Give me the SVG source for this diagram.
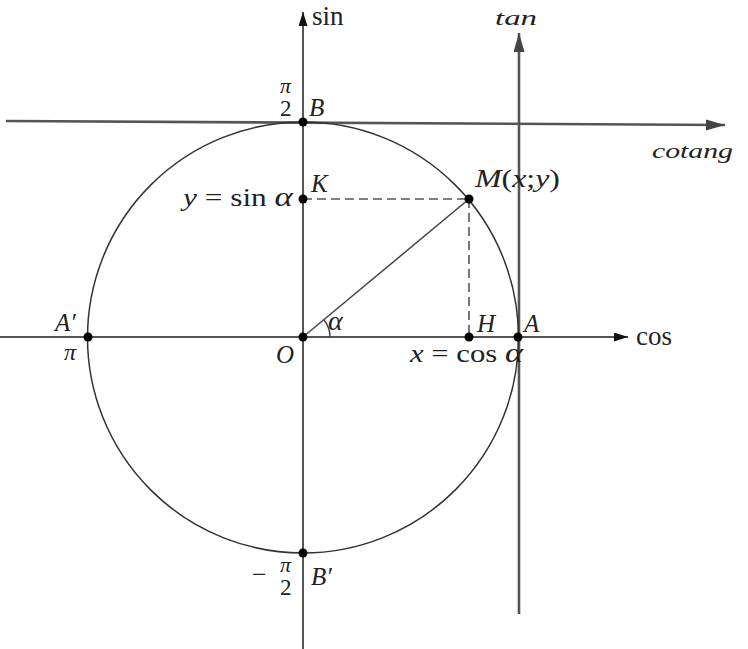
<svg xmlns="http://www.w3.org/2000/svg" width="748" height="649" viewBox="0 0 748 649">
<style>
.ax{stroke:#555;stroke-width:2;fill:none}
.ax2{stroke:#555;stroke-width:2.6;fill:none}
.cir{stroke:#333;stroke-width:1.5;fill:none}
.ln{stroke:#444;stroke-width:1.5;fill:none}
.dash{stroke:#555;stroke-width:1.6;fill:none;stroke-dasharray:9 5}
.dot{fill:#000}
.t{font-family:"Liberation Serif","Times New Roman",serif;fill:#222}
.i{font-style:italic}
.lb{font-family:"Liberation Serif","Times New Roman",serif;font-style:italic;font-size:25px;fill:#222}
.fr{font-family:"Liberation Serif","Times New Roman",serif;font-size:23px;fill:#222}
.pi{font-family:"Liberation Serif","Times New Roman",serif;font-style:italic;font-size:22px;fill:#222}
</style>
<defs>
<marker id="arr" markerUnits="userSpaceOnUse" markerWidth="20" markerHeight="12" refX="19" refY="5.5" orient="auto">
<path d="M0,0 L19,5.5 L0,11 z" fill="#444"/>
</marker>
<marker id="arrS" markerUnits="userSpaceOnUse" markerWidth="16" markerHeight="10" refX="14" refY="4.5" orient="auto">
<path d="M0,0 L14,4.5 L0,9 z" fill="#111"/>
</marker>
</defs>
<g id="connectors">
<line id="cos-axis" class="ax" x1="0" y1="337" x2="628" y2="337" marker-end="url(#arrS)"/>
<line id="sin-axis" class="ax" x1="303" y1="649" x2="303" y2="12" marker-end="url(#arrS)"/>
<line id="tan-axis" class="ax2" x1="519" y1="614" x2="519" y2="33" marker-end="url(#arr)"/>
<line id="cotang-axis" class="ax2" x1="6" y1="121" x2="725" y2="125" marker-end="url(#arr)"/>
<line id="OM" class="ln" x1="303" y1="337" x2="469" y2="199"/>
<line id="KM" class="dash" x1="303" y1="199" x2="469" y2="199"/>
<line id="MH" class="dash" x1="469" y1="199" x2="469" y2="337"/>
<path id="alpha-arc" class="ln" d="M330,337 A27,27 0 0 0 323.8,319.8"/>
</g>
<g id="circle"><circle class="cir" cx="303" cy="337.5" r="215.5"/></g>
<g id="axis-labels">
<text class="t" x="312" y="25" font-size="27">sin</text>
<text class="t" x="636" y="345" font-size="27">cos</text>
<text class="t i" x="495" y="25" font-size="22" textLength="42" lengthAdjust="spacingAndGlyphs">tan</text>
<text class="t i" x="652" y="158" font-size="22" textLength="81" lengthAdjust="spacingAndGlyphs">cotang</text>
</g>
<g id="node-B">
<circle class="dot" cx="303" cy="122" r="4.5"/>
<text class="lb" x="309" y="116">B</text>
<text class="pi" x="280" y="93">π</text>
<text class="fr" x="280" y="116">2</text>
</g>
<g id="node-K">
<circle class="dot" cx="303" cy="199" r="4.5"/>
<text class="lb" x="311" y="192">K</text>
<text class="t" x="183" y="206" font-size="25" textLength="110" lengthAdjust="spacingAndGlyphs"><tspan class="i">y</tspan> = sin <tspan class="i" font-size="28">α</tspan></text>
</g>
<g id="node-M">
<circle class="dot" cx="469" cy="199" r="4.5"/>
<text class="t" x="475" y="187" font-size="25" textLength="85" lengthAdjust="spacingAndGlyphs"><tspan class="i">M</tspan>(<tspan class="i">x</tspan>;<tspan class="i">y</tspan>)</text>
</g>
<g id="node-O">
<circle class="dot" cx="303" cy="337" r="4.5"/>
<text class="lb" x="276" y="363">O</text>
<text class="t i" x="328" y="330" font-size="28">α</text>
</g>
<g id="node-H">
<circle class="dot" cx="469" cy="337" r="4.5"/>
<text class="lb" x="477" y="332">H</text>
<text class="t" x="410" y="362" font-size="25" textLength="113" lengthAdjust="spacingAndGlyphs"><tspan class="i">x</tspan> = cos <tspan class="i" font-size="28">α</tspan></text>
</g>
<g id="node-A">
<circle class="dot" cx="518" cy="337" r="4.5"/>
<text class="lb" x="524" y="332">A</text>
</g>
<g id="node-A-prime">
<circle class="dot" cx="88" cy="337" r="4.5"/>
<text class="lb" x="55" y="331">A′</text>
<text class="t i" x="64" y="360" font-size="24">π</text>
</g>
<g id="node-B-prime">
<circle class="dot" cx="303" cy="553" r="4.5"/>
<text class="lb" x="311" y="585">B′</text>
<text class="t" x="252" y="583" font-size="26">−</text>
<text class="pi" x="280" y="572">π</text>
<text class="fr" x="280" y="595">2</text>
</g>
</svg>
